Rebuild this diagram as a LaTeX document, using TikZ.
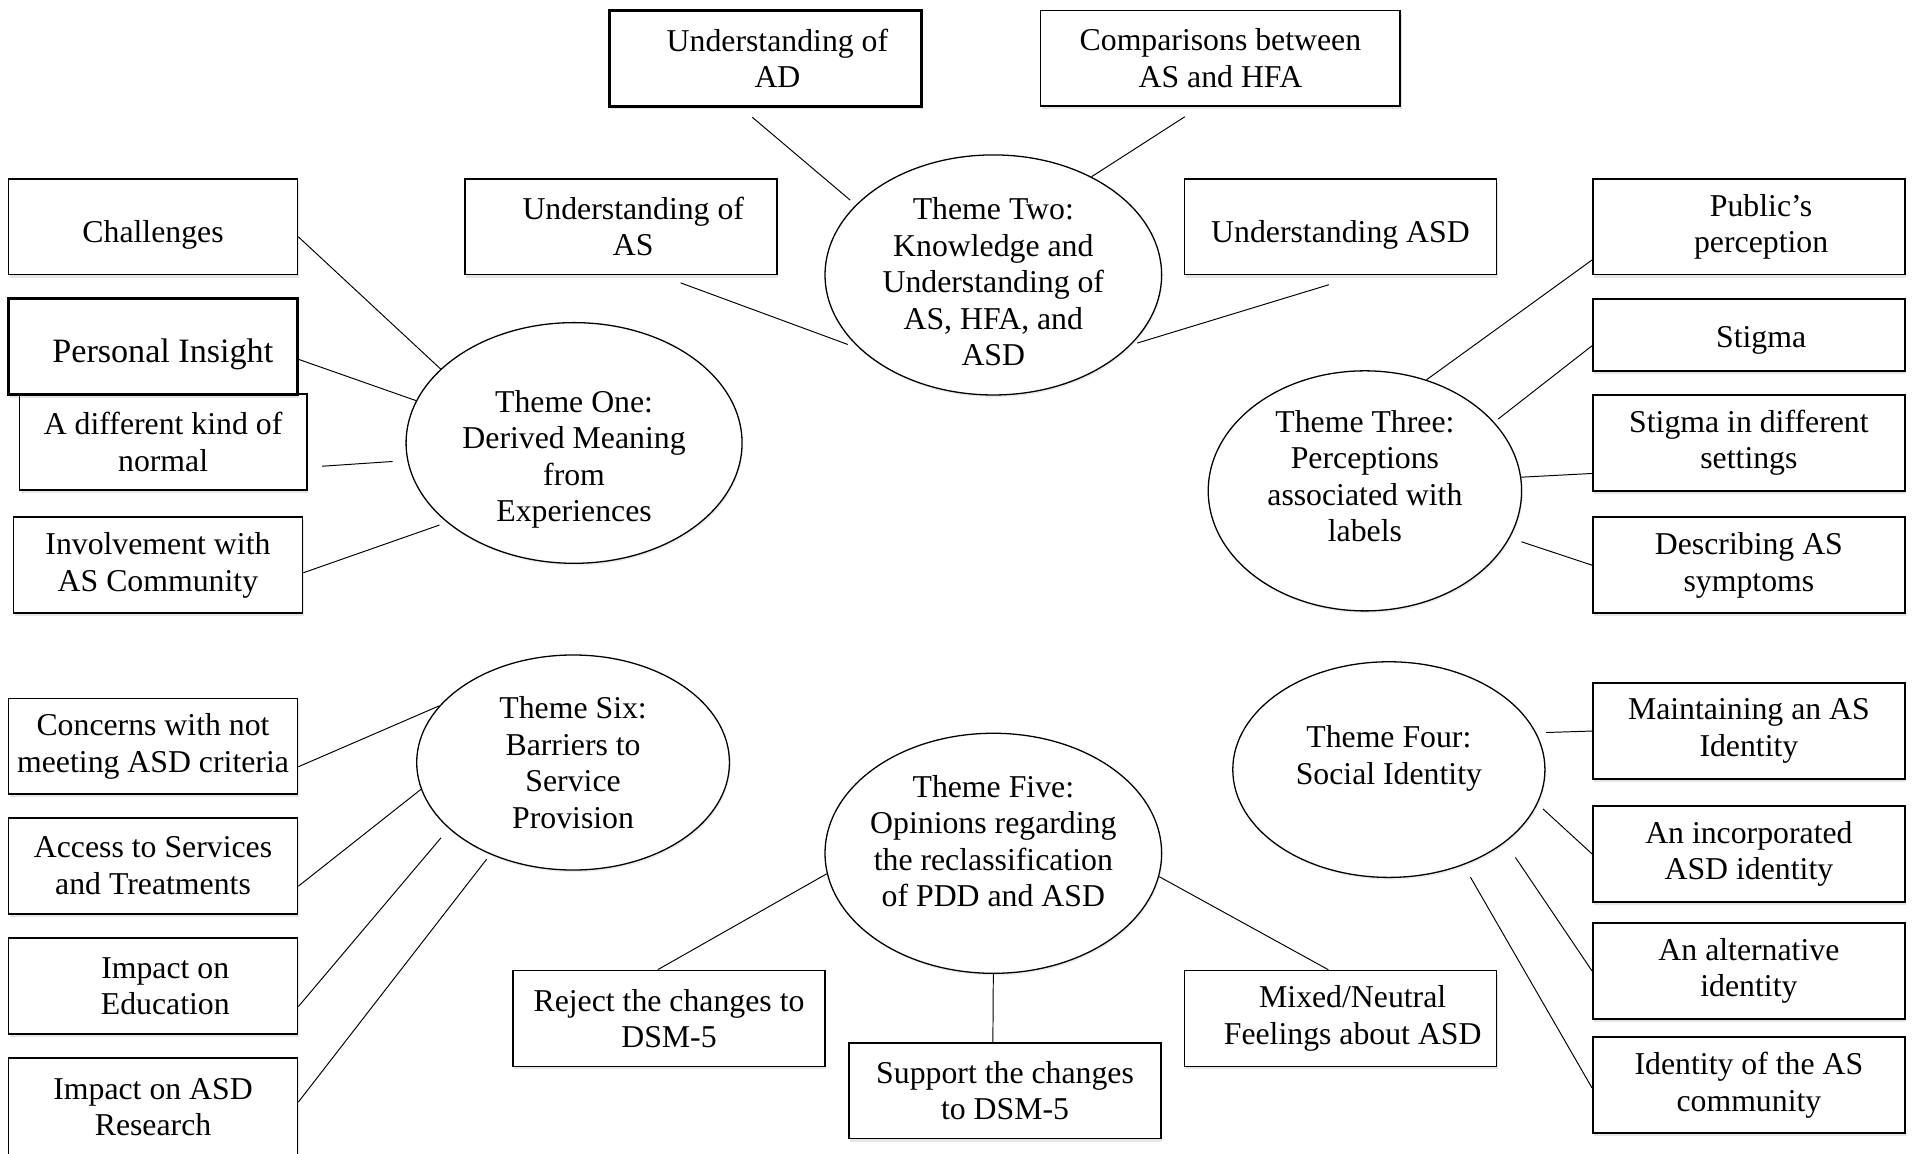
\documentclass[tikz,border=0pt]{standalone}
\usepackage{fontspec}
\setmainfont{Liberation Serif}
\usetikzlibrary{shapes.geometric,shadows}

\tikzset{
  topic/.style={draw, rectangle, fill=white, align=center, inner sep=2pt,
    line width=0.8pt, minimum width=4.73cm, minimum height=1.57cm,
    drop shadow={shadow xshift=0.6pt, shadow yshift=-1.4pt, opacity=0.2}},
  wide topic/.style={topic, minimum width=5.11cm},
  bold topic/.style={line width=1.4pt},
  one line/.style={text height=15pt, text depth=0pt},
  theme/.style={draw, ellipse, fill=white, line width=0.6pt,
    drop shadow={shadow xshift=0.5pt, shadow yshift=-1pt, opacity=0.15}},
  theme text/.style={align=center}
}
% text set a little right of the box centre
\newcommand{\indt}{\hspace*{0.4cm}}

\begin{document}
\begin{tikzpicture}[x=0.02cm, y=-0.02cm, font=\fontsize{14.8}{17}\selectfont,
    every edge/.style={draw, line width=0.45pt}]

  \useasboundingbox (0,0) rectangle (1568,944);

  % themes
  \node[theme, minimum width=5.5cm, minimum height=3.94cm,
    label={[theme text, yshift=-0.27cm]center:{Theme One:\\Derived Meaning\\from\\Experiences}}]
    (one) at (469.8,362.5) {};
  \node[theme, minimum width=5.51cm, minimum height=3.93cm,
    label={[theme text, yshift=-0.11cm]center:{Theme Two:\\Knowledge and\\Understanding of\\AS, HFA, and\\ASD}}]
    (two) at (812.9,225) {};
  \node[theme, minimum width=5.13cm, minimum height=3.93cm,
    label={[theme text, yshift=0.24cm]center:{Theme Three:\\Perceptions\\associated with\\labels}}]
    (three) at (1117,401.7) {};
  \node[theme, minimum width=5.11cm, minimum height=3.53cm,
    label={[theme text, yshift=0.18cm]center:{Theme Four:\\Social Identity}}]
    (four) at (1136.6,629.8) {};
  \node[theme, minimum width=5.51cm, minimum height=3.93cm,
    label={[theme text, yshift=0.2cm]center:{Theme Five:\\Opinions regarding\\the reclassification\\of PDD and ASD}}]
    (five) at (812.9,698.3) {};
  \node[theme, minimum width=5.12cm, minimum height=3.52cm,
    label={[theme text]center:{Theme Six:\\Barriers to\\Service\\Provision}}]
    (six) at (469,624) {};

  % theme two
  \node[wide topic, bold topic] (ad) at (626.25,47.75) {\indt Understanding of\\\indt AD};
  \node[topic, minimum width=5.89cm] (comp) at (998.75,47.75) {Comparisons between\\AS and HFA};
  \node[wide topic] (as) at (508.25,185.5) {\indt Understanding of\\\indt AS};
  \node[wide topic, one line] (asd) at (1097,185.5) {Understanding ASD};

  % theme one
  \node[topic, one line] (chal) at (125.25,185.5) {Challenges};
  \node[topic, minimum width=4.7cm] (normal) at (133.5,361.5) {A different kind of\\normal};
  \node[topic, bold topic, one line, font=\fontsize{15.9}{18}\selectfont] (insight) at (125.25,283.75) {\hspace*{0.32cm}Personal Insight};
  \node[topic] (involve) at (129.25,462.5) {Involvement with\\AS Community};

  % theme three
  \node[wide topic] (public) at (1431.25,185.5) {\indt Public’s\\\indt perception};
  \node[wide topic, minimum height=1.18cm, text height=12pt, text depth=0pt] (stigma) at (1431.25,274) {\indt Stigma};
  \node[wide topic] (stigmaset) at (1431.25,362.5) {Stigma in different\\settings};
  \node[wide topic] (symptoms) at (1431.25,462.5) {Describing AS\\symptoms};

  % theme six
  \node[topic] (concern) at (125.25,610.75) {Concerns with not\\meeting ASD criteria};
  \node[topic] (access) at (125.25,708.5) {Access to Services\\and Treatments};
  \node[topic] (educ) at (125.25,807) {\indt Impact on\\\indt Education};
  \node[topic, minimum height=1.6cm] (research) at (125.25,906) {Impact on ASD\\Research};

  % theme five
  \node[wide topic] (reject) at (547.5,833.5) {Reject the changes to\\DSM-5};
  \node[wide topic] (support) at (822.5,892.5) {Support the changes\\to DSM-5};
  \node[wide topic] (mixed) at (1097,833.5) {\indt Mixed/Neutral\\\indt Feelings about ASD};

  % theme four
  \node[wide topic] (maintain) at (1431.25,598.25) {Maintaining an AS\\Identity};
  \node[wide topic] (incorp) at (1431.25,698.75) {An incorporated\\ASD identity};
  \node[wide topic] (altern) at (1431.25,794.5) {An alternative\\identity};
  \node[wide topic] (community) at (1431.25,888) {Identity of the AS\\community};

  \path (ad.244.2) edge[shorten <=0.24cm, shorten >=0.12cm] (two.153.4)
        (comp.247.3) edge[shorten <=0.29cm] (two.45.2)
        (as.309.7) edge[shorten <=0.35cm, shorten >=0.21cm] (two.209.1)
        (asd.291.6) edge[shorten <=0.52cm, shorten >=0.11cm] (two.333.5);

  \path (chal.356.4) edge (one.151.4)
        (insight.355.5) edge (one.165.4)
        (normal.350.6) edge[shorten <=0.24cm, shorten >=0.24cm] (one.186.3)
        (involve.357.3) edge[shorten >=0.13cm] (one.212.2);

  \path (public.192.1) edge (three.61.9)
        (stigma.184.9) edge[shorten >=0.08cm] (three.28.9)
        (stigmaset.191.7) edge (three.5.4)
        (symptoms.west) edge[shorten >=0.2cm] (three.342);

  \path (concern.352.6) edge (six.157.6)
        (access.352.5) edge (six.190.2)
        (educ.352.7) edge[shorten >=0.2cm] (six.208.8)
        (research.2.4) edge[shorten >=0.1cm] (six.228.8);

  \path (reject.103.5) edge (five.187.1)
        (support.104.9) edge (five.south)
        (mixed.104.2) edge (five.352.7);

  \path (maintain.west) edge[shorten >=0.16cm] (four.14)
        (incorp.west) edge[shorten >=0.12cm] (four.347.9)
        (altern.west) edge[shorten >=0.3cm] (four.328.3)
        (community.181.8) edge[shorten >=0.23cm] (four.308.9);

\end{tikzpicture}
\end{document}
